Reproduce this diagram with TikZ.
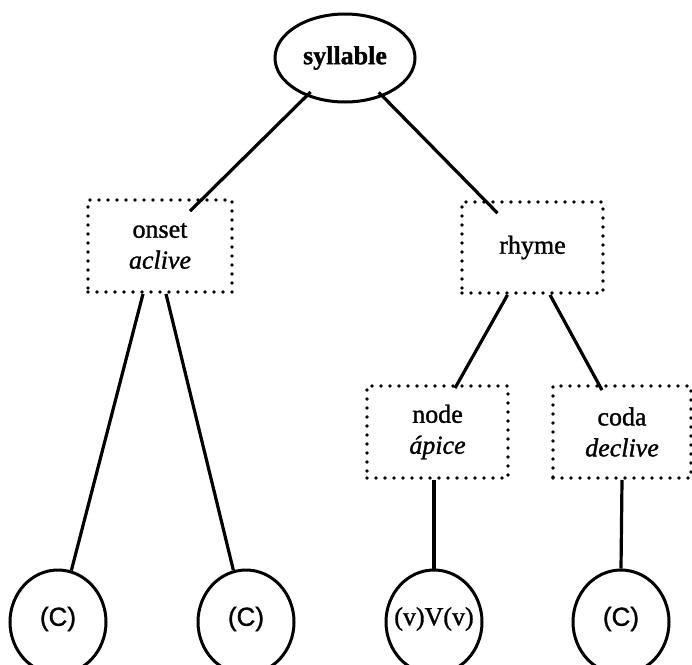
\documentclass[tikz,border=0pt]{standalone}
\usepackage{fontspec}
\setmainfont{Liberation Serif}[FakeBold=1.2]
\newfontfamily\sansC{Liberation Sans}[FakeBold=1.2]
\usetikzlibrary{shapes.geometric}
\begin{document}
\begin{tikzpicture}[x=1pt,y=-1pt,
  lbl/.style={font=\fontsize{26}{31}\selectfont, inner sep=0pt},
  oval/.style={ellipse, draw, line width=3pt, inner sep=0pt},
  leaf/.style={ellipse, draw, line width=3pt, inner sep=0pt, minimum width=96pt, minimum height=104pt},
  dotbox/.style={rectangle, draw, line width=3.8pt, line cap=round, dash pattern=on 0pt off 9pt,
                 align=center, inner sep=0pt, minimum height=92pt,
                 font=\fontsize{26}{31}\selectfont},
  link/.style={line width=3.2pt}]
\useasboundingbox (0,0) rectangle (692,664);
\fill[white] (0,0) rectangle (692,664);

\node[oval, minimum width=140pt, minimum height=88pt, lbl] (syl) at (345,58) {\textbf{syllable}};

\node[dotbox, minimum width=144pt] (onset) at (160,246) {onset\\\textit{aclive}};
\node[dotbox, minimum width=141pt, minimum height=91pt] (rhyme) at (532.5,247.5) {rhyme};
\node[dotbox, minimum width=141pt] (nd) at (437.5,432) {node\\\textit{ápice}};
\node[dotbox, minimum width=138pt] (coda) at (622,432) {coda\\\textit{declive}};

\node[leaf] (c1) at (58,622) {};
\node[leaf] (c2) at (246,622) {};
\node[leaf] (c3) at (434,622) {};
\node[leaf] (c4) at (621,622) {};
\node[lbl, yshift=3pt] (t1) at (c1) {\sansC (C)};
\node[lbl, yshift=3pt] (t2) at (c2) {\sansC (C)};
\node[lbl, yshift=3pt] (t3) at (c3) {(v)V(v)};
\node[lbl, yshift=3pt] (t4) at (c4) {\sansC (C)};

\draw[link, shorten <=-6pt] (syl) -- ([shift={(30,13)}]onset.north);
\draw[link, shorten <=-6pt] (syl) -- ([shift={(-35,13)}]rhyme.north);
\draw[link] ([xshift=-25pt]rhyme.south) -- ([shift={(17.5,4)}]nd.north);
\draw[link] ([xshift=17.5pt]rhyme.south) -- ([shift={(-20,6)}]coda.north);
\draw[link] ([xshift=-17pt]onset.south) -- (c1);
\draw[link] ([xshift=6pt]onset.south) -- (c2);
\draw[link] ([xshift=-3.5pt]nd.south) -- (c3.north);
\draw[link] (coda.south) -- (c4.north);
\end{tikzpicture}
\end{document}
